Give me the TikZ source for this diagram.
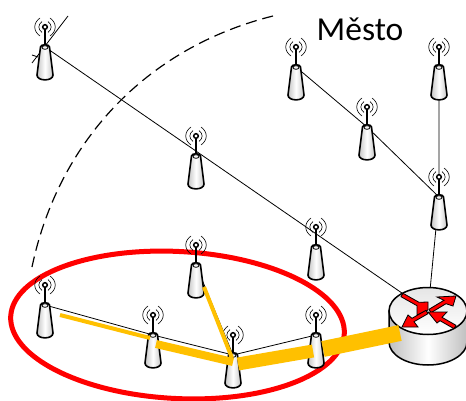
\documentclass[tikz,border=0pt]{standalone}
\usepackage{fontspec}
\setmainfont{Carlito}
\usepackage{tikz}

\definecolor{feedgold}{HTML}{FFC000}

\tikzset{
	link/.style={draw=black, line width=0.8pt},
	feed/.style={draw=feedgold, line cap=butt},
	redarrow/.style={draw=black, line width=0.8pt, fill=red},
	tower/.pic={
		\draw[line width=2pt] (0,0) -- (0,19);
		\draw[line width=1.5pt, fill=white] (0,0) circle (2.3);
		\foreach \r in {6,10} {
			\draw[line width=0.6pt] (\r*.5,-\r*.9) .. controls (\r*1.2,-\r*.4) and (\r*1.2,\r*.4) .. (\r*.5,\r*.9);
			\draw[line width=0.6pt] (-\r*.5,-\r*.9) .. controls (-\r*1.2,-\r*.4) and (-\r*1.2,\r*.4) .. (-\r*.5,\r*.9);
		}
		\draw[line width=1.6pt, left color=gray!45, right color=gray!45, middle color=white]
			(-4.5,20) -- (-8,48) .. controls (-8,54.5) and (8,54.5) .. (8,48) -- (4.5,20)
			.. controls (4.5,17) and (-4.5,17) .. cycle;
		\draw[line width=0.8pt, fill=gray!10] (0,20.5) ellipse (3 and 1.8);
	}
}

\begin{document}
\begin{tikzpicture}[x=1pt, y=-1pt]
	\useasboundingbox (0,0) rectangle (466,401);
	%
	\foreach \nm/\x/\y in {ta/45/27, tb/296/47, tc/439/47, td/367/107, te/196/136, tf/439/177,
		tg/316/227, th/196/245, ti/45/285, tj/153/315, tk/233/335, tl/316/315} {
		\coordinate (\nm) at (\x,\y);
		\coordinate (\nm m) at (\x,\y+20);
	}
	\coordinate (rtr) at (428,311);
	\coordinate (far) at (68,16);
	\coordinate (near) at (32,63);
	\coordinate (ticka) at (32,55);
	\coordinate (tickb) at (38,57);
	\coordinate (arca) at (273,16);
	\coordinate (arcb) at (32,267);
	%
	\node (mesto) at (360,29) {\fontsize{33.5}{33.5}\selectfont Město};
	\draw[line width=1.2pt, dash pattern=on 11pt off 6pt] (arca) .. controls (145,48) and (58,143) .. (arcb);
	\draw[red, line width=5pt, rotate around={-3:(177.5,325)}] (177.5,325) ellipse (167 and 73.5);
	%
	\draw[link] (far) -- (near);
	\draw[link] (ticka) -- (tickb);
	\draw[link] (tam) -- (rtr);
	\draw[link] (tbm) -- (tdm) -- (tfm);
	\draw[link] (tcm) -- (tfm) -- (rtr);
	\draw[link] (tim) -- (tjm) -- (tkm) -- (tlm);
	\draw[link] (thm) -- (tkm);
	%
	\foreach \nm in {ta,tb,tc,td,te,tf,tg,th,ti,tj,tk,tl} {
		\pic at (\nm) {tower};
	}
	%
	\draw[line width=1.5pt, left color=gray!50, right color=gray!50, middle color=white]
		(389,311) -- (389,342) arc (180:0:39 and 23) -- (467,311) -- cycle;
	\draw[line width=1.5pt, top color=gray!20, bottom color=white] (rtr) ellipse (39 and 23.5);
	\draw[redarrow] (403,293.3) -- (419,302.3) -- (428,302) -- (428,310) -- (417,315) -- (417,305.7) -- (401,296.7) -- cycle;
	\draw[redarrow] (429,309.3) -- (444,300.3) -- (437,297) -- (456,296) -- (453,306) -- (446,303.7) -- (431,312.7) -- cycle;
	\draw[redarrow] (426,310.3) -- (412,318.3) -- (408,315) -- (402,327) -- (418,327) -- (414,321.7) -- (428,313.7) -- cycle;
	\draw[redarrow] (456,325.3) -- (442,317.3) -- (447,312) -- (428,312) -- (437,323) -- (440,320.7) -- (454,328.7) -- cycle;
	%
	\coordinate (oa) at (60,315);
	\coordinate (ob) at (150,338);
	\coordinate (oc) at (156,344);
	\coordinate (od) at (233,362);
	\coordinate (oe) at (204,287);
	\coordinate (of) at (232,358);
	\coordinate (og) at (238,364);
	\coordinate (oh) at (313,351);
	\coordinate (oi) at (323,349);
	\coordinate (oj) at (400,333);
	\draw[feed, line width=4pt] (oa) -- (ob);
	\draw[feed, line width=8pt] (oc) -- (od);
	\draw[feed, line width=4pt] (oe) -- (of);
	\draw[feed, line width=13pt] (og) -- (oh);
	\draw[feed, line width=16pt] (oi) -- (oj);
\end{tikzpicture}
\end{document}
